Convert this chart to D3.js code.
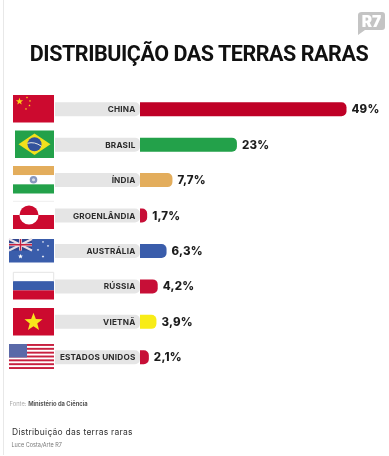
<!DOCTYPE html>
<html>
<head>
<meta charset="utf-8">
<script src="https://cdn.jsdelivr.net/npm/d3@7"></script>
<style>
  html, body { margin: 0; padding: 0; background: #fff; }
  svg { display: block; filter: blur(0.35px); }
  text { font-family: Inter, "Noto Sans", sans-serif; }
</style>
</head>
<body>
<svg width="389" height="456"></svg>
<script>
// Values.
var countries = ["CHINA", "BRASIL", "ÍNDIA", "GROENLÂNDIA", "AUSTRÁLIA", "RÚSSIA", "VIETNÃ", "ESTADOS UNIDOS"];
var shares = [49, 23, 7.7, 1.7, 6.3, 4.2, 3.9, 2.1];
var shareLabels = ["49%", "23%", "7,7%", "1,7%", "6,3%", "4,2%", "3,9%", "2,1%"];
var barColors = ["#bf0026", "#23a14a", "#e3ad5c", "#c70f37", "#3a5dab", "#c70f37", "#f8ec17", "#c70f37"];

// Configuration parameters.
var barLeft = 140
  , trackLeft = 55
  , barHeight = 14
  , valueGap = 5
;

var svg = d3.select("svg");

// D3 Objects.
var xScale = d3.scaleLinear().domain([0, 49]).range([barLeft, 346.5])
  , yScale = d3.scaleBand().domain(countries).range([91.5, 375]).paddingInner(0.56).paddingOuter(0.28)
;

// Top of the bar in a row.
function barTop(d) {
  return yScale(d) + (yScale.bandwidth() - barHeight) / 2;
}

// Bar with rounded right end only.
function barPath(x0, x1, y, h) {
  var r = Math.min(5, x1 - x0, h / 2);
  var p = d3.path();
  p.moveTo(x0, y);
  p.lineTo(x1 - r, y);
  p.arcTo(x1, y, x1, y + r, r);
  p.lineTo(x1, y + h - r);
  p.arcTo(x1, y + h, x1 - r, y + h, r);
  p.lineTo(x0, y + h);
  p.closePath();
  return p.toString();
}

// Frame line on the left of the page.
svg.append("line")
    .attr("x1", 3.5).attr("x2", 3.5)
    .attr("y1", 0).attr("y2", 455)
    .attr("stroke", "#e8e8e8");

// Logo.
var logo = svg.append("g");
logo.append("path")
    .attr("d", "M362 12H382Q385 12 385 15V27Q385 30 382 30H365L358 35V15Q358 12 362 12Z")
    .attr("fill", "#c4c4c4");
logo.append("text")
    .attr("x", 371.5).attr("y", 27)
    .attr("text-anchor", "middle")
    .attr("font-size", 15.5).attr("font-weight", 900)
    .attr("fill", "#fff")
    .text("R7");

// Title.
svg.append("text")
    .attr("x", 199).attr("y", 60.5)
    .attr("text-anchor", "middle")
    .style("font-family", "Roboto")
    .attr("font-size", 21.5).attr("font-weight", 700)
    .attr("letter-spacing", -0.45)
    .attr("fill", "#111")
    .text("DISTRIBUIÇÃO DAS TERRAS RARAS");

var rows = svg.append("g").selectAll("g")
    .data(countries)
    .join("g");

// Grey tracks behind the labels.
rows.append("path")
    .attr("d", function (d){ return barPath(trackLeft, barLeft, barTop(d), barHeight); })
    .attr("fill", "#e5e5e5");

rows.append("path")
    .attr("d", function (d, i){ return barPath(barLeft, xScale(shares[i]), barTop(d), barHeight); })
    .attr("fill", function (d, i){ return barColors[i]; });

rows.append("text")
    .attr("x", barLeft - 4.5)
    .attr("y", function (d){ return barTop(d) + barHeight / 2 + 3; })
    .attr("text-anchor", "end")
    .attr("font-size", 8.2).attr("font-weight", 700)
    .attr("letter-spacing", 0.2)
    .attr("fill", "#2b2b2b")
    .text(function (d){ return d; });

rows.append("text")
    .attr("x", function (d, i){ return xScale(shares[i]) + valueGap; })
    .attr("y", function (d){ return barTop(d) + barHeight / 2 + 4; })
    .attr("font-size", 11.5).attr("font-weight", 800)
    .attr("letter-spacing", 0.2)
    .attr("fill", "#1c1c1c")
    .text(function (d, i){ return shareLabels[i]; });

// Flags, each drawn in its own little box.
var flags = {
  "CHINA": function (g, w, h) {
    rect(g, 0, 0, w, h, "#cc0a2f");
    star(g, 6.5, 6.5, 3.8, "#fcd116");
    [[14, 2.5], [17, 6], [16.5, 10.5], [13, 14]].forEach(function (s){ star(g, s[0], s[1], 1.2, "#fcd116"); });
  },
  "BRASIL": function (g, w, h) {
    rect(g, 0, 0, w, h, "#23a14a");
    g.append("polygon").attr("points", [[3.5, h / 2], [w / 2, 3], [w - 3.5, h / 2], [w / 2, h - 3]].join(" ")).attr("fill", "#f2e01c");
    g.append("circle").attr("cx", w / 2).attr("cy", h / 2).attr("r", 7).attr("fill", "#33529c");
    g.append("path").attr("d", "M" + (w / 2 - 7) + " " + (h / 2 - 1) + "Q" + (w / 2) + " " + (h / 2 - 3) + " " + (w / 2 + 7) + " " + (h / 2 + 2))
        .attr("stroke", "#e8e8e8").attr("stroke-width", 1).attr("fill", "none");
  },
  "ÍNDIA": function (g, w, h) {
    rect(g, 0, 0, w, h / 3, "#e3ad5c");
    rect(g, 0, h / 3, w, h / 3, "#fff");
    rect(g, 0, 2 * h / 3, w, h / 3, "#23a14a");
    g.append("circle").attr("cx", w / 2).attr("cy", h / 2).attr("r", 3.8).attr("fill", "#8796bd");
    g.append("circle").attr("cx", w / 2).attr("cy", h / 2).attr("r", 1.6).attr("fill", "#d5dbe8");
  },
  "GROENLÂNDIA": function (g, w, h) {
    rect(g, 0, 0, w, h / 2, "#fff");
    rect(g, 0, h / 2, w, h / 2, "#cc0a2f");
    g.append("line").attr("x1", 0).attr("x2", w).attr("y1", 0.3).attr("y2", 0.3).attr("stroke", "#eee");
    g.append("path").attr("d", d3.arc()({ innerRadius: 0, outerRadius: 9.5, startAngle: -Math.PI / 2, endAngle: Math.PI / 2 })).attr("transform", "translate(16," + (h / 2) + ")").attr("fill", "#cc0a2f");
    g.append("path").attr("d", d3.arc()({ innerRadius: 0, outerRadius: 9.5, startAngle: Math.PI / 2, endAngle: 3 * Math.PI / 2 })).attr("transform", "translate(16," + (h / 2) + ")").attr("fill", "#fff");
  },
  "AUSTRÁLIA": function (g, w, h) {
    rect(g, 0, 0, w, h, "#3a5dab");
    rect(g, 0, 0, 23, 11.5, "#31478f");
    g.append("path").attr("d", "M0 0L23 11.5M23 0L0 11.5").attr("stroke", "#e8dfe6").attr("stroke-width", 2);
    g.append("path").attr("d", "M11.5 0V11.5M0 5.75H23").attr("stroke", "#e8dfe6").attr("stroke-width", 3);
    g.append("path").attr("d", "M11.5 0V11.5M0 5.75H23").attr("stroke", "#c8203f").attr("stroke-width", 1.4);
    [[11.5, 17.5, 2.6], [34, 17.5, 1.4], [29, 11, 1.3], [39, 7, 1.3], [34, 3, 1.2]].forEach(function (s){ star(g, s[0], s[1], s[2], "#fff"); });
  },
  "RÚSSIA": function (g, w, h) {
    rect(g, 0, 0, w, h / 3, "#fff");
    rect(g, 0, h / 3, w, h / 3, "#3a5dab");
    rect(g, 0, 2 * h / 3, w, h / 3, "#cc0a2f");
    g.append("path").attr("d", "M0.3 " + (h / 3) + "V0.3H" + (w - 0.3) + "V" + (h / 3)).attr("fill", "none").attr("stroke", "#e4e4e4");
  },
  "VIETNÃ": function (g, w, h) {
    rect(g, 0, 0, w, h, "#cc0a2f");
    star(g, w / 2, h / 2 + 0.5, 9.5, "#f8e71c");
  },
  "ESTADOS UNIDOS": function (g, w, h) {
    var n = 13, i;
    rect(g, 0, 0, w, h, "#fff");
    for (i = 0; i < n; i += 2) rect(g, 0, i * h / n, w, h / n, "#c8203f");
    rect(g, 0, 0, 18, 7 * h / n, "#5a69a8");
  }
};

var flagBoxes = [[13, 95, 41, 27.5], [15, 130.5, 39, 27.5], [13, 166, 41, 27.5], [13, 201, 41, 28], [9, 239, 45, 23.5], [13, 272, 41, 27.5], [13, 308, 41, 27.5], [9, 344, 45, 25]];

function rect(g, x, y, w, h, fill) {
  return g.append("rect").attr("x", x).attr("y", y).attr("width", w).attr("height", h).attr("fill", fill);
}

function star(g, cx, cy, r, fill) {
  var pts = d3.range(10).map(function (i){
    var a = -Math.PI / 2 + i * Math.PI / 5, q = i % 2 ? r * 0.42 : r;
    return [cx + q * Math.cos(a), cy + q * Math.sin(a)];
  });
  return g.append("polygon").attr("points", pts.join(" ")).attr("fill", fill);
}

countries.forEach(function (c, i){
  var b = flagBoxes[i]
    , g = svg.append("g").attr("transform", "translate(" + [b[0], b[1]] + ")");
  flags[c](g, b[2], b[3]);
});

// Source and captions.
var source = svg.append("text").attr("x", 9.5).attr("y", 406).attr("font-size", 5.8);
source.append("tspan").attr("fill", "#aaa").text("Fonte: ");
source.append("tspan").attr("fill", "#555").attr("font-weight", 700).text("Ministério da Ciência");

svg.append("text")
    .attr("x", 12).attr("y", 435)
    .attr("font-size", 8.5)
    .attr("letter-spacing", 0.25)
    .attr("fill", "#333")
    .text("Distribuição das terras raras");

svg.append("text")
    .attr("x", 11.5).attr("y", 447)
    .attr("font-size", 5.5)
    .attr("fill", "#777")
    .text("Luce Costa/Arte R7");
</script>
</body>
</html>
